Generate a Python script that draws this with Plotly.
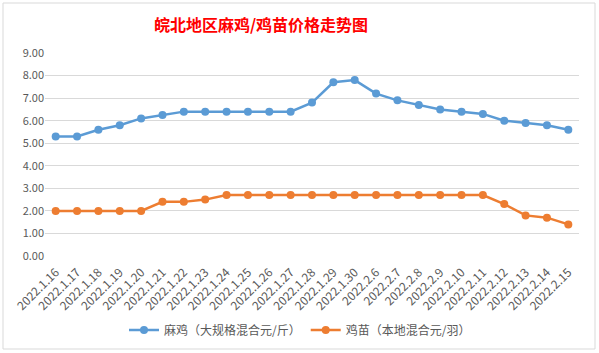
import plotly.graph_objects as go

categories = ["2022.1.16", "2022.1.17", "2022.1.18", "2022.1.19", "2022.1.20",
              "2022.1.21", "2022.1.22", "2022.1.23", "2022.1.24", "2022.1.25",
              "2022.1.26", "2022.1.27", "2022.1.28", "2022.1.29", "2022.1.30",
              "2022.2.6", "2022.2.7", "2022.2.8", "2022.2.9", "2022.2.10",
              "2022.2.11", "2022.2.12", "2022.2.13", "2022.2.14", "2022.2.15"]
maji = [5.3, 5.3, 5.6, 5.8, 6.1, 6.25, 6.4, 6.4, 6.4, 6.4, 6.4, 6.4, 6.8, 7.7, 7.8,
        7.2, 6.9, 6.7, 6.5, 6.4, 6.3, 6.0, 5.9, 5.8, 5.6]
jimiao = [2.0, 2.0, 2.0, 2.0, 2.0, 2.4, 2.4, 2.5, 2.7, 2.7, 2.7, 2.7, 2.7, 2.7, 2.7,
          2.7, 2.7, 2.7, 2.7, 2.7, 2.7, 2.3, 1.8, 1.7, 1.4]
name_maji = "麻鸡（大规格混合元/斤）"
name_jimiao = "鸡苗（本地混合元/羽）"
title_text = "皖北地区麻鸡/鸡苗价格走势图"
yticks = [0, 1, 2, 3, 4, 5, 6, 7, 8, 9]

W, H = 599, 353
ml, mr, mt, mb = 45, 20, 53, 97
font = "Noto Sans CJK SC, Microsoft YaHei, sans-serif"

fig = go.Figure()
fig.add_trace(go.Scatter(x=categories, y=maji, name=name_maji, mode="lines+markers",
                         line=dict(color="#5B9BD5", width=2.5),
                         marker=dict(color="#5B9BD5", size=8)))
fig.add_trace(go.Scatter(x=categories, y=jimiao, name=name_jimiao, mode="lines+markers",
                         line=dict(color="#ED7D31", width=2.5),
                         marker=dict(color="#ED7D31", size=8)))

pw = W - ml - mr
ph = H - mt - mb
def px_x(p):
    return (p - ml) / pw
def px_y(p):
    return (H - mb - p) / ph

fig.update_layout(
    width=W, height=H,
    margin=dict(l=ml, r=mr, t=mt, b=mb, autoexpand=False),
    paper_bgcolor="white", plot_bgcolor="white",
    font=dict(family=font, color="#595959", size=11),
    title=dict(text="<b>" + title_text + "</b>", x=261 / W, xanchor="center", y=1 - 25 / H, yanchor="middle",
               font=dict(family=font, color="#FF0000", size=16)),
    showlegend=True,
    legend=dict(orientation="h", x=px_x(300), xanchor="center",
                y=px_y(330), yanchor="middle", font=dict(size=12, color="#595959"),
                itemwidth=30, traceorder="normal"),
    xaxis=dict(type="category", range=[-0.5, len(categories) - 0.5], tickangle=-45,
               showgrid=False, showline=False, ticks="", ticklabelstandoff=6, automargin=False,
               tickfont=dict(size=12, color="#595959")),
    yaxis=dict(range=[0, 9], tickvals=yticks, tickformat=".2f", showgrid=True, automargin=False,
               gridcolor="#D9D9D9", gridwidth=1, zeroline=False, showline=False, ticks="",
               tickfont=dict(size=11, color="#595959")),
    shapes=[dict(type="rect", xref="paper", yref="paper",
                 x0=px_x(3), x1=px_x(595), y0=px_y(349), y1=px_y(3),
                 line=dict(color="#D9D9D9", width=1), fillcolor="rgba(0,0,0,0)", layer="below")],
)
fig.write_html("out.html")
